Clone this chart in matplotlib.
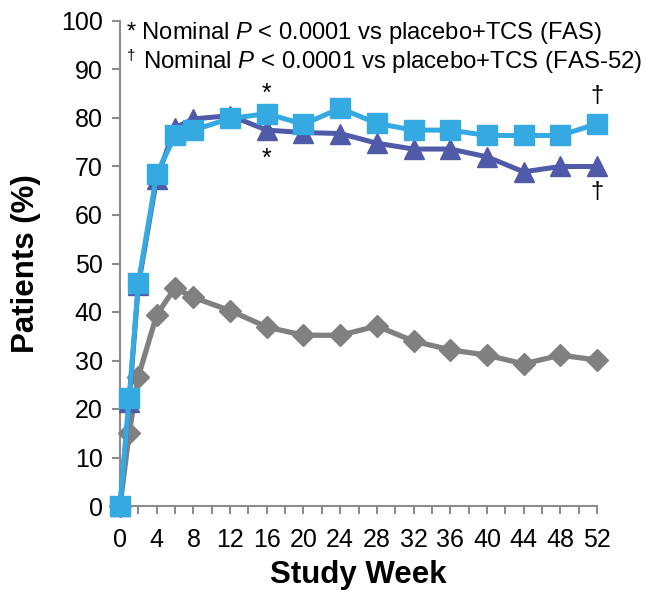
import matplotlib
matplotlib.use("Agg")
import matplotlib.pyplot as plt

plt.rcParams["font.family"] = ["Liberation Sans", "DejaVu Sans"]
plt.rcParams["mathtext.fontset"] = "custom"
plt.rcParams["mathtext.rm"] = "Liberation Sans"
plt.rcParams["mathtext.it"] = "Liberation Sans:italic"

weeks = [0, 1, 2, 4, 6, 8, 12, 16, 20, 24, 28, 32, 36, 40, 44, 48, 52]
dupi_fas = [0, 22.3, 46.0, 68.4, 76.4, 77.5, 79.9, 80.9, 78.7, 82.0, 78.9, 77.5, 77.5, 76.4, 76.4, 76.4, 78.8]
dupi_fas52 = [0, 21.5, 45.5, 67.5, 78.0, 79.8, 80.5, 77.5, 77.0, 76.8, 74.8, 73.6, 73.6, 72.0, 68.9, 70.0, 70.0]
placebo = [0, 15.0, 26.7, 39.4, 45.0, 43.0, 40.3, 36.9, 35.2, 35.2, 37.1, 34.0, 32.2, 31.1, 29.3, 31.1, 30.1]

x_ticks = list(range(0, 53, 2))
x_labels = [str(w) if w % 4 == 0 else "" for w in x_ticks]

LIGHT = "#35A9E1"
DARK = "#4F5AA8"
GREY = "#808080"
AXIS = "#8C8C8C"

fig = plt.figure(figsize=(6.46, 5.92), dpi=100)
ax = fig.add_axes([120 / 646, 1 - 506 / 592, 477 / 646, 485 / 592])

ax.plot(weeks, placebo, color=GREY, lw=3.8, marker="D", ms=11, clip_on=False, zorder=3)
ax.plot(weeks, dupi_fas52, color=DARK, lw=3.6, marker="^", ms=14, clip_on=False, zorder=4)
ax.plot(weeks, dupi_fas, color=LIGHT, lw=3.6, marker="s", ms=14, clip_on=False, zorder=5)

ax.set_xlim(0, 52)
ax.set_ylim(0, 100)
ax.set_xticks(x_ticks)
ax.set_xticklabels(x_labels)
ax.set_yticks(range(0, 101, 10))

for s in ["top", "right"]:
    ax.spines[s].set_visible(False)
for s in ["left", "bottom"]:
    ax.spines[s].set_color(AXIS)
    ax.spines[s].set_linewidth(1.5)
ax.tick_params(axis="both", colors=AXIS, length=5.5, width=1.5, labelsize=18,
               labelcolor="black")
ax.tick_params(axis="x", pad=10)
ax.tick_params(axis="y", pad=7)

ax.set_xlabel("Study Week", fontsize=22.5, fontweight="bold", labelpad=6)
ax.set_ylabel("Patients (%)", fontsize=22.5, fontweight="bold", labelpad=14)

# significance marks
ax.text(16, 85.0, "*", fontsize=18, ha="center", va="center")
ax.text(16, 71.5, "*", fontsize=18, ha="center", va="center")
ax.text(52, 84.5, "\u2020", fontsize=17, ha="center", va="center")
ax.text(52, 64.8, "\u2020", fontsize=17, ha="center", va="center")

# footnote text
fig.text(126 / 646, 1 - 33 / 592, "* Nominal $P$ < 0.0001 vs placebo+TCS (FAS)",
         fontsize=17.1, ha="left", va="center")
fig.text(127 / 646, 1 - 56 / 592, "\u2020", fontsize=11, ha="left", va="center")
fig.text(143 / 646, 1 - 62 / 592, "Nominal $P$ < 0.0001 vs placebo+TCS (FAS-52)",
         fontsize=17.3, ha="left", va="center")

fig.savefig("out.png", dpi=100)
